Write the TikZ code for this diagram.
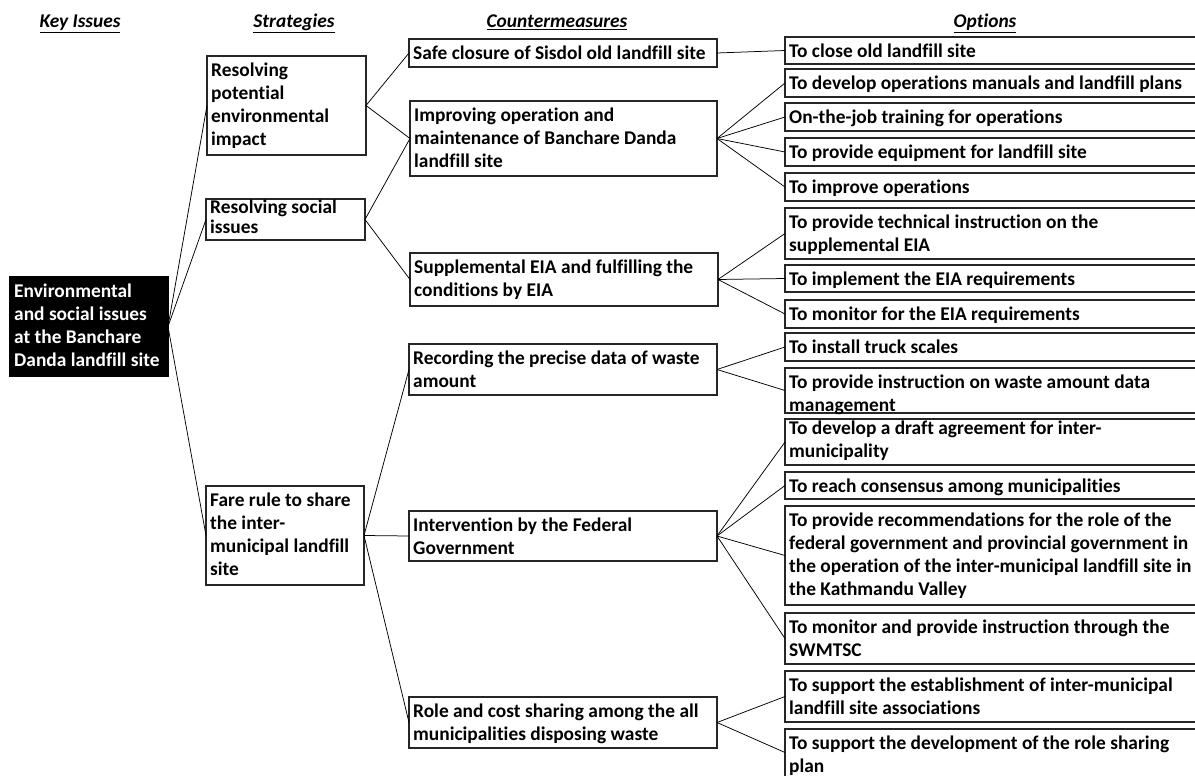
\documentclass[tikz,border=0pt]{standalone}
\usepackage{fontspec}
\setmainfont{Carlito}[Ligatures=NoCommon]
% a framed box given by its corners, with its text set from the top left
% #1 text drop (pt, optional), #2 name, #3 left, #4 top, #5 right, #6 bottom, #7 text
\newcommand\tbox[7][4.5]{%
  \node[box, minimum width={#5-#3}, minimum height={#6-#4}] (#2) at (#3,#4) {};
  \node[txt] (#2-t) at ([shift={(4pt,-#1pt)}]#2.north west) {\strut #7};
}
\begin{document}
\begin{tikzpicture}[x=1pt,y=-1pt,
  box/.style={draw=black!85, line width=1.1pt, inner sep=0pt, outer sep=0pt, anchor=north west, fill=white},
  rootbox/.style={box, fill=black, draw=black},
  txt/.style={anchor=north west, inner sep=0pt, align=left, font=\fontsize{19.4}{23}\selectfont\bfseries},
  head/.style={anchor=base, inner sep=0pt, font=\fontsize{19.4}{23}\selectfont\bfseries\itshape},
  link/.style={draw=black, line width=0.75pt}]
\useasboundingbox (0,0) rectangle (1195,776);
\clip (0,0) rectangle (1195,776);

% column headings
\node[head] (hkey) at (80,28) {\underline{Key Issues}};
\node[head] (hstr) at (294,28) {\underline{Strategies}};
\node[head] (hcnt) at (557,28) {\underline{Countermeasures}};
\node[head] (hopt) at (985,28) {\underline{Options}};

% key issue
\node[rootbox, minimum width=158, minimum height=99] (root) at (10,277) {};
\node[txt, text=white] (root-t) at ([shift={(4pt,-4pt)}]root.north west)
  {\strut Environmental\\and social issues\\at the Banchare\\Danda landfill site};

% strategies
\tbox{s1}{207}{56}{366}{155}{Resolving\\potential\\environmental\\impact}
\tbox[-2]{s2}{206}{199}{365}{240}{Resolving social\\[-3pt]issues}
\tbox{s3}{206}{486}{364}{585}{Fare rule to share\\the inter-\\municipal landfill\\site}

% countermeasures
\tbox[4]{c1}{409}{39}{717}{67}{Safe closure of Sisdol old landfill site}
\tbox[4]{c2}{410}{101}{717}{176}{Improving operation and\\maintenance of Banchare Danda\\landfill site}
\tbox[4]{c3}{410}{253}{718}{306}{Supplemental EIA and fulfilling the\\conditions by EIA}
\tbox{c4}{409}{344}{717}{395}{Recording the precise data of waste\\amount}
\tbox[4]{c5}{409}{511}{717}{561}{Intervention by the Federal\\Government}
\tbox{c6}{409}{697}{717}{748}{Role and cost sharing among the all\\municipalities disposing waste}

% options
\tbox{o1}{785}{37}{1210}{64}{To close old landfill site}
\tbox{o2}{785}{69}{1210}{97}{To develop operations manuals and landfill plans}
\tbox{o3}{785}{103}{1210}{131}{On-the-job training for operations}
\tbox{o4}{785}{138}{1210}{166}{To provide equipment for landfill site}
\tbox{o5}{785}{173}{1210}{201}{To improve operations}
\tbox{o6}{785}{208}{1210}{259}{To provide technical instruction on the\\supplemental EIA}
\tbox{o7}{785}{265}{1210}{292}{To implement the EIA requirements}
\tbox{o8}{785}{300}{1210}{328}{To monitor for the EIA requirements}
\tbox{o9}{785}{333}{1210}{361}{To install truck scales}
\tbox[4]{o10}{785}{368}{1210}{413}{To provide instruction on waste amount data\\management}
\tbox[-1]{o11}{785}{419}{1210}{465}{To develop a draft agreement for inter-\\municipality}
\tbox{o12}{785}{472}{1210}{499}{To reach consensus among municipalities}
\tbox{o13}{785}{506}{1210}{605}{To provide recommendations for the role of the\\federal government and provincial government in\\the operation of the inter-municipal landfill site in\\the Kathmandu Valley}
\tbox{o14}{785}{613}{1210}{664}{To monitor and provide instruction through the\\SWMTSC}
\tbox{o15}{785}{671}{1210}{722}{To support the establishment of inter-municipal\\landfill site associations}
\tbox{o16}{785}{729}{1210}{800}{To support the development of the role sharing\\plan}

% connectors
\foreach \s in {s1,s2,s3} \draw[link] (root.east) -- (\s.west);
\foreach \c in {c1,c2} \draw[link] (s1.east) -- (\c.west);
\foreach \c in {c2,c3} \draw[link] (s2.east) -- (\c.west);
\foreach \c in {c4,c5,c6} \draw[link] (s3.east) -- (\c.west);
\draw[link] (c1.east) -- (o1.west);
\foreach \o in {o2,o3,o4,o5} \draw[link] (c2.east) -- (\o.west);
\foreach \o in {o6,o7,o8} \draw[link] (c3.east) -- (\o.west);
\foreach \o in {o9,o10} \draw[link] (c4.east) -- (\o.west);
\foreach \o in {o11,o12,o13,o14} \draw[link] (c5.east) -- (\o.west);
\draw[link] (c6.east) -- (o15.west);
\draw[link] (c6.east) -- ([yshift=-23.5pt]o16.north west);
\end{tikzpicture}
\end{document}
